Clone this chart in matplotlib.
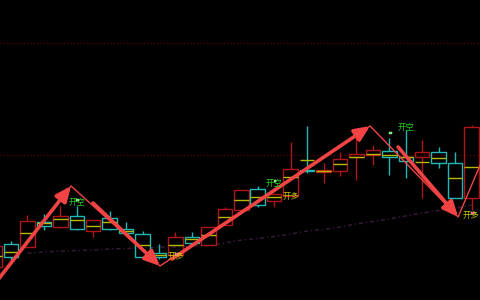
import matplotlib
matplotlib.use("Agg")
import matplotlib.pyplot as plt
import numpy as np

# candle data (price units = chart height units, 0 at bottom)
up = [1, 0, 1, 0, 1, 0, 1, 0, 0, 0, 0, 1, 0, 1, 1, 1, 0, 1, 1, 0, 1, 1, 1, 1, 0, 0, 1, 0, 0, 1]
body_top = [54, 56, 79, 78, 84, 84, 80, 82, 71, 66, 47, 63, 63, 73, 91, 110, 111, 106, 131, 130, 130, 141, 146, 150, 149, 143, 148, 148, 137, 173]
body_bot = [33, 43, 53, 74, 73, 71, 69, 71, 67, 43, 43, 45, 57, 55, 75, 90, 95, 99, 104, 129, 128, 129, 143, 145, 143, 139, 143, 137, 102, 102]
high = [60, 59, 85, 86, 94, 94, 80, 89, 78, 69, 56, 68, 68, 73, 93, 110, 114, 106, 158, 174, 137, 148, 163, 155, 162, 170, 160, 153, 148, 175]
low = [30, 38, 53, 70, 72, 70, 63, 70, 64, 41, 41, 43, 55, 55, 75, 90, 93, 93, 104, 127, 117, 124, 120, 135, 125, 122, 102, 132, 102, 90]
mid = [44, 48, 67, 77, 81, 80, 74, 78, 69, 55, 45, 55, 61, 65, 83, 100, 103, 103, 123, 140, 129, 136, 143, 146, 145, 143, 138, 142, 122, 133]
ma = [np.nan, np.nan, 47, 48, 49, 49.5, 50, 51, 51.5, 52, 53, 53, 54, 54.5, 57, 60, 61.5, 63.5, 66, 69,
      70.5, 73, 76, 78.5, 81, 84, 87, 89.5, 92, 95]

# zigzag pivots and arrow shafts
pivot_x = [0.2, 4.65, 10.06, 22.83, 28.18, 29.7]
pivot_y = [20, 114, 34, 174, 83, 142]
arrow_from_x = [0.2, 5.99, 10.79, 24.53]
arrow_from_y = [20, 97, 41, 153]

# signal labels
sig_text = ["开空", "开多", "开空", "开多", "开空", "开多"]
sig_x = [5.0, 11.0, 17.0, 18.05, 25.0, 28.95]
sig_y = [98, 44, 117, 104, 173, 85]
sig_col = ["#22cc22", "#c8c800", "#22cc22", "#c8c800", "#22cc22", "#c8c800"]
dot_x = [5.05, 11.05, 17.05, 24.05, 29.05]
dot_y = [100, 46, 119, 167, 87]
dot_col = ["#33ee33", "#ff3030", "#33ee33", "#33ee33", "#ff3030"]

levels = [257, 145]

RED = "#b01515"
CYAN = "#1fb8b8"
YEL = "#b8b800"
ARR = "#f24444"

fig = plt.figure(figsize=(4.8, 3.0), dpi=100, facecolor="black")
ax = fig.add_axes([0, 0, 1, 1])
ax.set_facecolor("black")
ax.set_xlim(0.334, 29.51)
ax.set_ylim(0, 300)
ax.axis("off")

x = np.arange(len(up))
w = 0.88
for i in range(len(up)):
    c = RED if up[i] else CYAN
    h = max(body_top[i] - body_bot[i], 0.6)
    ax.bar(x[i], h, bottom=body_bot[i], width=w, facecolor="none", edgecolor=c, linewidth=1.0, zorder=2)
    if high[i] > body_top[i]:
        ax.vlines(x[i], body_top[i], high[i], color=c, lw=1.0, zorder=2)
    if low[i] < body_bot[i]:
        ax.vlines(x[i], low[i], body_bot[i], color=c, lw=1.0, zorder=2)
    ax.hlines(mid[i], x[i] - w / 2, x[i] + w / 2, color=YEL, lw=1.0, zorder=3)

ax.plot(x, ma, color="#3a1a3a", lw=1.0, ls=(0, (3, 2, 1, 2)), zorder=1)
for lv in levels:
    ax.axhline(lv, color="#700000", lw=0.8, ls=(0, (1, 2)), zorder=1)

ax.plot(pivot_x, pivot_y, color=ARR, lw=1.0, zorder=4)
for k in range(len(arrow_from_x)):
    ax.annotate("", xy=(pivot_x[k + 1], pivot_y[k + 1]), xytext=(arrow_from_x[k], arrow_from_y[k]),
                arrowprops=dict(arrowstyle="-|>,head_length=0.9,head_width=0.4", lw=2.6,
                                color=ARR, shrinkA=0, shrinkB=0), zorder=5)

for t, sx, sy, sc in zip(sig_text, sig_x, sig_y, sig_col):
    ax.text(sx, sy, t, color=sc, fontsize=6, ha="center", va="center",
            family=["Noto Sans CJK SC", "DejaVu Sans"], zorder=6)
ax.scatter(dot_x, dot_y, s=4, c=dot_col, marker="s", edgecolors="white", linewidths=0.3, zorder=7)

fig.savefig("out.png", dpi=100, facecolor="black")
